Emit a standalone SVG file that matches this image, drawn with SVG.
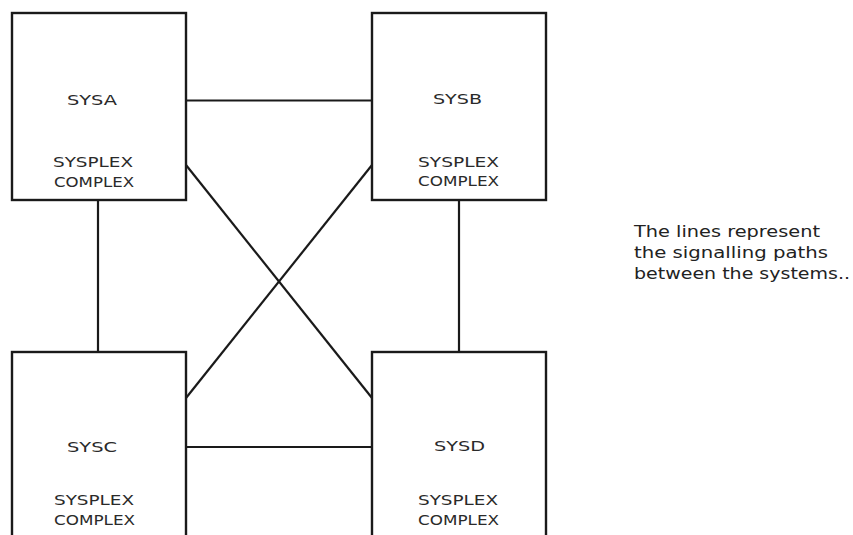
<svg xmlns="http://www.w3.org/2000/svg" width="853" height="535" viewBox="0 0 853 535">
<style>
.box{fill:#fff;stroke:#1a1a1a;stroke-width:2.4}
.ln{stroke:#1a1a1a;stroke-width:2.2;fill:none}
.t{font-family:"DejaVu Sans","Liberation Sans",sans-serif;font-size:14px;fill:#2a2a2a;text-anchor:start}
.n{font-family:"DejaVu Sans","Liberation Sans",sans-serif;font-size:15px;fill:#222}
</style>
<rect width="853" height="535" fill="#fff"/>
<g id="connectors">
<line class="ln" x1="186" y1="100.5" x2="372" y2="100.5"/>
<line class="ln" x1="186" y1="447" x2="372" y2="447"/>
<line class="ln" x1="98" y1="200" x2="98" y2="352"/>
<line class="ln" x1="459" y1="200" x2="459" y2="352"/>
<line class="ln" x1="186" y1="165" x2="372" y2="398"/>
<line class="ln" x1="372" y1="165" x2="186" y2="398"/>
</g>
<g id="sysa">
<rect class="box" x="12" y="13" width="174" height="187"/>
<text class="t" x="67" y="105" textLength="50" lengthAdjust="spacingAndGlyphs">SYSA</text>
<text class="t" x="53" y="167" textLength="80" lengthAdjust="spacingAndGlyphs">SYSPLEX</text>
<text class="t" x="54" y="187" textLength="80" lengthAdjust="spacingAndGlyphs">COMPLEX</text>
</g>
<g id="sysb">
<rect class="box" x="372" y="13" width="174" height="187"/>
<text class="t" x="433" y="104" textLength="49" lengthAdjust="spacingAndGlyphs">SYSB</text>
<text class="t" x="418" y="167" textLength="81" lengthAdjust="spacingAndGlyphs">SYSPLEX</text>
<text class="t" x="418" y="186" textLength="81" lengthAdjust="spacingAndGlyphs">COMPLEX</text>
</g>
<g id="sysc">
<rect class="box" x="12" y="352" width="174" height="195"/>
<text class="t" x="67" y="452" textLength="50" lengthAdjust="spacingAndGlyphs">SYSC</text>
<text class="t" x="54" y="505" textLength="80" lengthAdjust="spacingAndGlyphs">SYSPLEX</text>
<text class="t" x="54" y="525" textLength="81" lengthAdjust="spacingAndGlyphs">COMPLEX</text>
</g>
<g id="sysd">
<rect class="box" x="372" y="352" width="174" height="195"/>
<text class="t" x="434" y="451" textLength="51" lengthAdjust="spacingAndGlyphs">SYSD</text>
<text class="t" x="418" y="505" textLength="80" lengthAdjust="spacingAndGlyphs">SYSPLEX</text>
<text class="t" x="418" y="525" textLength="81" lengthAdjust="spacingAndGlyphs">COMPLEX</text>
</g>
<g id="note">
<text class="n" x="634" y="237" textLength="186" lengthAdjust="spacingAndGlyphs">The lines represent</text>
<text class="n" x="634" y="258" textLength="194" lengthAdjust="spacingAndGlyphs">the signalling paths</text>
<text class="n" x="634" y="279" textLength="216" lengthAdjust="spacingAndGlyphs">between the systems..</text>
</g>
</svg>
